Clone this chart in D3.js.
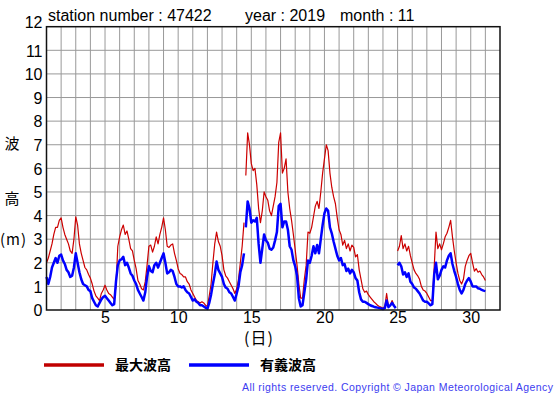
<!DOCTYPE html>
<html lang="ja">
<head>
<meta charset="utf-8">
<title>波浪 47422 2019-11</title>
<script src="https://d3js.org/d3.v7.min.js"></script>
<style>
  body { margin: 0; background: #fff; }
  text { font-family: "Liberation Sans", Arial, sans-serif; }
  .jp { font-family: "Noto Sans CJK JP", sans-serif; }
</style>
</head>
<body>
<script>

// 3-hourly values starting 1 Nov 00:00 (slot i -> day 1 + i/8)
var dayStart = 1;
var slotsPerDay = 8;

// 最大波高 (m)
var maxWave = [
  2.0, 2.2, 2.5, 2.8, 3.2, 3.5, 3.5, 3.8,
  3.9, 3.5, 3.2, 3.0, 2.8, 2.5, 2.4, 3.0,
  3.95, 3.6, 2.8, 2.4, 2.1, 1.8, 1.7, 1.5,
  1.35, 1.1, 0.8, 0.6, 0.5, 0.4, 0.7, 0.85,
  1.05, 0.85, 0.7, 0.65, 0.55, 0.45, 1.0, 2.7,
  3.1, 3.4, 3.6, 3.2, 3.35, 3.0, 2.6, 2.5,
  2.1, 1.75, 1.25, 1.1, 0.9, 0.85, 1.2, 1.9,
  2.7, 2.75, 2.45, 2.7, 3.1, 2.8, 3.2, 3.5,
  3.9, 3.4, 2.7, 2.65, 2.75, 2.8, 2.4, 2.1,
  1.75, 1.55, 1.5, 1.4, 1.4, 1.2, 1.1, 0.85,
  0.7, 0.55, 0.4, 0.35, 0.3, 0.35, 0.3, 0.2,
  0.15, 0.6, 1.1, 2.0, 2.8, 3.3, 2.9, 2.7,
  2.3, 1.7, 1.45, 1.35, 1.2, 1.05, 0.9, 0.7,
  0.9, 1.3, 2.0, 2.7, 3.7, 5.7, 7.5, 7.0,
  6.2, 5.9, 6.0, 5.3, 4.3, 3.7, 4.2, 5.0,
  4.8, 4.65, 4.2, 4.0, 4.4, 4.8, 5.4, 7.1,
  7.5, 5.8, 6.0, 6.4, 5.0, 4.3, 3.8, 3.2,
  2.55, 1.9, 1.1, 0.5, 0.5, 1.3, 1.9, 3.3,
  3.25, 3.5, 3.95, 4.4, 4.6, 4.3, 5.0, 5.8,
  6.4, 7.0, 6.75, 5.8, 5.2, 4.8, 4.5, 3.9,
  3.4, 3.2, 2.75, 2.95, 2.6, 2.8, 2.5, 2.75,
  2.65, 2.25, 2.35, 1.7, 1.3, 0.9, 0.75, 0.8,
  0.65, 0.55, 0.45, 0.35, 0.28, 0.2, 0.15, 0.12,
  0.07, 0.15, 0.7, 0.15, 0.2, 0.4, 0.2, 0.1,
  2.5, 2.7, 3.15, 2.6, 2.8, 2.5, 2.7, 2.3,
  2.0, 1.7, 1.55, 1.45, 1.3, 1.0, 0.85, 0.8,
  0.7, 0.55, 0.4, 0.4, 1.8, 3.3, 2.6, 2.8,
  2.55, 2.8, 3.1, 3.25, 3.5, 3.8, 3.1, 2.5,
  2.0, 1.55, 1.25, 1.1, 1.3, 1.85, 2.1, 2.3,
  2.4, 2.0, 1.65, 1.75, 1.6, 1.65, 1.5, 1.4, 1.25
];

// 有義波高 (m)
var sigWave = [
  1.4, 1.1, 1.4, 1.8, 2.0, 2.2, 2.0, 2.3,
  2.35, 2.1, 1.95, 1.7, 1.6, 1.4, 1.45, 1.8,
  2.4, 2.0, 1.6, 1.3, 1.1, 1.05, 1.0, 0.85,
  0.8, 0.5, 0.35, 0.2, 0.15, 0.3, 0.45, 0.55,
  0.6, 0.5, 0.4, 0.3, 0.2, 0.25, 1.2, 1.9,
  2.1, 2.15, 2.25, 1.9, 2.0, 1.8, 1.55, 1.45,
  1.25, 1.1, 0.85, 0.7, 0.55, 0.4, 0.75, 1.4,
  1.85, 1.65, 1.6, 1.9, 2.0, 1.8, 2.0, 2.2,
  2.4, 2.0, 1.55, 1.6, 1.7, 1.65, 1.4, 1.1,
  1.0, 1.0, 0.95, 1.0, 0.85, 0.75, 0.7, 0.55,
  0.4, 0.45, 0.35, 0.3, 0.2, 0.2, 0.15, 0.1,
  0.05, 0.3, 0.65, 1.1, 1.5, 2.05, 1.7, 1.55,
  1.4, 1.1, 0.95, 0.9, 0.75, 0.7, 0.55, 0.4,
  0.7, 1.0, 1.6, 1.9, 2.4, 3.5, 4.6, 4.3,
  3.7, 3.8, 3.75, 3.9, 2.8, 2.0, 2.6, 3.2,
  2.95, 2.85, 2.6, 2.55, 2.65, 2.95, 3.3, 4.4,
  4.5, 3.5, 3.75, 3.75, 3.4, 2.7, 2.55, 2.1,
  1.85, 1.45, 0.5, 0.15, 0.2, 0.75, 1.3, 2.1,
  2.0, 2.3, 2.7, 2.4, 2.75, 2.4, 3.0, 3.6,
  4.1, 4.3, 4.2, 3.5, 3.25, 2.9, 2.6, 2.3,
  2.1, 2.2, 1.9, 1.95, 1.65, 1.75, 1.55, 1.7,
  1.6, 1.35, 1.25, 0.75, 0.45, 0.35, 0.35, 0.3,
  0.25, 0.2, 0.17, 0.14, 0.12, 0.1, 0.08, 0.06,
  0.04, 0.08, 0.4, 0.12, 0.2, 0.3, 0.18, 0.08,
  1.9, 2.0, 1.85, 1.5, 1.6, 1.4, 1.55, 1.2,
  1.1, 0.95, 0.9, 0.8, 0.7, 0.55, 0.4, 0.35,
  0.35, 0.28, 0.2, 0.25, 1.5, 2.0, 1.3, 1.45,
  1.7, 1.85, 1.8, 2.1, 2.3, 2.4, 1.95, 1.65,
  1.4, 1.1, 0.85, 0.7, 0.85, 1.1, 1.25, 1.35,
  1.2, 1.0, 1.0, 1.0, 0.92, 0.9, 0.85, 0.82, 0.8
];

// missing record between these slots and the next
var breaks = [108, 191];

var xTicks = [5, 10, 15, 20, 25, 30];
var yTicks = [0, 1, 2, 3, 4, 5, 6, 7, 8, 9, 10, 11, 12];
var titleParts = ["station number : 47422", "year : 2019", "month : 11"];
var legendNames = ["最大波高", "有義波高"];
var colors = ["#cc0000", "#0000ff"];

var w = 555, h = 395;
var plotL = 46.5, plotR = 500, plotT = 26.7, plotB = 310;

var svg = d3.select("body").append("svg")
  .attr("width", w)
  .attr("height", h);

var x = d3.scaleLinear().domain([1, 32]).range([plotL, plotR]);
var y = d3.scaleLinear().domain([0, 12]).range([plotB, plotT]);

// grid
svg.append("g")
  .selectAll("line")
  .data(d3.range(2, 32))
  .enter().append("line")
  .attr("x1", function(d) { return x(d); })
  .attr("x2", function(d) { return x(d); })
  .attr("y1", plotT).attr("y2", plotB)
  .attr("stroke", "#999").attr("stroke-width", 1);

svg.append("g")
  .selectAll("line")
  .data(d3.range(1, 12))
  .enter().append("line")
  .attr("x1", plotL).attr("x2", plotR)
  .attr("y1", function(d) { return y(d); })
  .attr("y2", function(d) { return y(d); })
  .attr("stroke", "#999").attr("stroke-width", 1);

// axes labels
var yAxis = svg.append("g")
  .attr("transform", "translate(" + (plotL - 4) + ",0)")
  .call(d3.axisLeft(y).tickValues(yTicks).tickSize(0).tickPadding(0));
yAxis.select(".domain").remove();
yAxis.selectAll("text")
  .attr("font-size", 16)
  .attr("font-family", "Liberation Sans, Arial, sans-serif")
  .attr("fill", "#000")
  .attr("dy", function(d) { return d === 12 ? "0.05em" : "0.36em"; });

var xAxis = svg.append("g")
  .attr("transform", "translate(0," + plotB + ")")
  .call(d3.axisBottom(x).tickValues(xTicks).tickSize(0).tickPadding(2));
xAxis.select(".domain").remove();
xAxis.selectAll("text")
  .attr("font-size", 16)
  .attr("font-family", "Liberation Sans, Arial, sans-serif")
  .attr("fill", "#000");

// data lines
function segments(values) {
  var segs = [], cur = [];
  values.forEach(function(v, i) {
    if (v === null) {
      if (cur.length) segs.push(cur);
      cur = [];
      return;
    }
    cur.push({ t: dayStart + i / slotsPerDay, v: v });
    if (breaks.indexOf(i) >= 0) { segs.push(cur); cur = []; }
  });
  if (cur.length) segs.push(cur);
  return segs;
}

var line = d3.line()
  .x(function(d) { return x(d.t); })
  .y(function(d) { return y(d.v); });

svg.append("g").selectAll("path")
  .data(segments(maxWave))
  .enter().append("path")
  .attr("d", line)
  .attr("fill", "none")
  .attr("stroke", colors[0])
  .attr("stroke-width", 1.2)
  .attr("stroke-linejoin", "round");

svg.append("g").selectAll("path")
  .data(segments(sigWave))
  .enter().append("path")
  .attr("d", line)
  .attr("fill", "none")
  .attr("stroke", colors[1])
  .attr("stroke-width", 2.5)
  .attr("stroke-linejoin", "round");

// frame
svg.append("rect")
  .attr("x", plotL).attr("y", plotT)
  .attr("width", plotR - plotL).attr("height", plotB - plotT)
  .attr("fill", "none")
  .attr("stroke", "#111").attr("stroke-width", 1.5);

// title
var titleX = [48, 245, 340];
svg.selectAll(".title")
  .data(titleParts)
  .enter().append("text")
  .attr("class", "title")
  .attr("x", function(d, i) { return titleX[i]; })
  .attr("y", 21)
  .attr("font-size", 16)
  .text(function(d) { return d; });

// y title
svg.append("text").attr("class", "jp").attr("x", 12).attr("y", 149)
  .attr("text-anchor", "middle").attr("font-size", 15).text("波");
svg.append("text").attr("class", "jp").attr("x", 12).attr("y", 204)
  .attr("text-anchor", "middle").attr("font-size", 15).text("高");
svg.append("text").attr("class", "jp").attr("x", 0).attr("y", 245)
  .attr("font-size", 15).attr("letter-spacing", 1).text("(m)");

// x title
svg.append("text").attr("class", "jp").attr("x", 259).attr("y", 344)
  .attr("text-anchor", "middle").attr("font-size", 16).attr("letter-spacing", 1).text("(日)");

// legend
var legX = [44, 189];
legendNames.forEach(function(name, i) {
  svg.append("line")
    .attr("x1", legX[i]).attr("x2", legX[i] + 60)
    .attr("y1", 365).attr("y2", 365)
    .attr("stroke", i === 0 ? "#c00000" : colors[1])
    .attr("stroke-width", 3.5);
  svg.append("text").attr("class", "jp")
    .attr("x", legX[i] + 71).attr("y", 370)
    .attr("font-size", 14).attr("font-weight", "bold")
    .text(name);
});

svg.append("text")
  .attr("x", 242).attr("y", 391)
  .attr("font-size", 10.5)
  .attr("fill", "#3c3cf0")
  .attr("textLength", 311)
  .attr("lengthAdjust", "spacing")
  .text("All rights reserved. Copyright © Japan Meteorological Agency");

</script>
</body>
</html>
